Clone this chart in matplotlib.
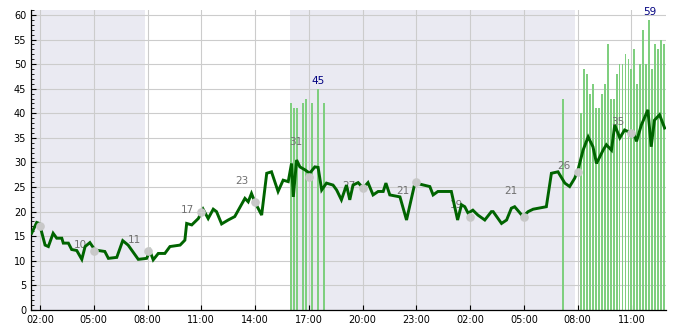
import numpy as np
import pandas as pd
import matplotlib
matplotlib.use("Agg")
import matplotlib.pyplot as plt
import matplotlib.dates as mdates
from matplotlib.ticker import MultipleLocator

# minutes since 00:00 of the first day
wind_min = [92, 109, 118, 137, 148, 164, 176, 193, 198, 215, 226, 243, 260, 271, 287, 304,
            337, 349, 377, 397, 415, 449, 477, 488, 499, 516, 538, 555, 589, 605, 611, 628,
            650, 666, 683, 700, 711, 728, 750, 772, 806, 817, 828, 839, 862, 879, 895, 917,
            934, 951, 962, 968, 979, 990, 1007, 1023, 1040, 1051, 1063, 1079, 1101, 1113,
            1129, 1146, 1157, 1168, 1185, 1202, 1218, 1235, 1252, 1269, 1278, 1291, 1325,
            1347, 1375, 1391, 1425, 1436, 1452, 1497, 1518, 1531, 1542, 1553, 1569, 1586,
            1609, 1631, 1637, 1665, 1682, 1698, 1709, 1737, 1754, 1771, 1815, 1832, 1854,
            1877, 1893, 1910, 1921, 1938, 1955, 1971, 1983, 2005, 2016, 2033, 2044, 2061,
            2077, 2088, 2105, 2117, 2133, 2155, 2166, 2177, 2194, 2211]
wind = [15.6, 17.8, 17.6, 13.2, 12.9, 15.6, 14.6, 14.6, 13.6, 13.6, 12.3, 12.1, 10.3, 12.9,
        13.7, 12.2, 11.9, 10.5, 10.7, 14.1, 13.2, 10.3, 10.5, 12.0, 10.2, 11.5, 11.5, 12.9,
        13.2, 14.2, 17.6, 17.3, 18.6, 20.5, 18.6, 20.5, 20.0, 17.5, 18.3, 19.0, 22.7, 22.0,
        23.7, 22.0, 19.3, 27.8, 28.1, 24.1, 26.4, 26.1, 29.8, 23.0, 30.5, 29.1, 28.5, 27.8,
        29.1, 29.0, 24.4, 25.8, 25.4, 24.4, 22.4, 25.4, 22.4, 25.4, 25.9, 24.8, 25.9, 23.4,
        24.1, 24.1, 25.8, 23.4, 23.0, 18.3, 25.8, 25.6, 25.1, 23.4, 24.1, 24.1, 18.3, 21.4,
        21.0, 19.7, 20.3, 19.3, 18.3, 20.0, 20.0, 17.6, 18.3, 20.7, 21.0, 19.0, 20.0, 20.5,
        21.0, 27.8, 28.1, 25.8, 25.1, 26.8, 28.5, 32.5, 35.2, 33.2, 29.8, 32.5, 33.6, 32.5,
        37.6, 35.0, 36.6, 36.3, 36.3, 34.3, 37.6, 40.7, 33.2, 38.6, 39.7, 37.0]

gust_min = [960, 970, 980, 1000, 1010, 1030, 1050, 1070, 1870] + list(range(1930, 2211, 10))
gust = [42, 41, 41, 42, 43, 42, 45, 42, 43,
        40, 49, 48, 44, 46, 41, 41, 44, 46, 54, 43, 43, 48, 50, 50, 52, 51, 49, 53, 46,
        50, 57, 50, 59, 49, 54, 53, 55, 54]

point_min = [120, 300, 480, 660, 840, 1020, 1200, 1380, 1560, 1740, 1920, 2100]
point_val = [17.1, 12.0, 12.0, 19.9, 21.9, 27.0, 24.9, 26.0, 18.9, 18.9, 28.0, 35.9]
point_lbl = ["", "10", "11", "17", "23", "31", "27", "21", "19", "21", "26", "35"]
lbl_y = [0, 13.2, 14.2, 20.3, 26.2, 34.2, 25.2, 24.2, 21.4, 24.2, 29.3, 38.3]

night_min = [(90, 472), (956, 1910)]
x_range = (90, 2215)

base = pd.Timestamp("2024-01-01")
def to_dt(m):
    return mdates.date2num(base + pd.to_timedelta(np.asarray(m, dtype=float), unit="m"))

fig = plt.figure(figsize=(6.85, 3.3), dpi=100)
ax = fig.add_axes([0.0453, 0.0606, 0.9267, 0.9091])

for a, b in night_min:
    ax.axvspan(to_dt(a), to_dt(b), color="#eaeaf2", lw=0, zorder=0)

ax.bar(to_dt(gust_min), gust, width=6.5 / 1440, color="#7fcf7f", lw=0, zorder=2)

# strongest gusts in the two clusters
for grp in (slice(0, 8), slice(8, None)):
    g = np.array(gust[grp])
    i = int(np.argmax(g))
    ax.annotate(str(g[i]), (to_dt(gust_min[grp][i]), g[i]), xytext=(0, 2),
                textcoords="offset points", ha="center", va="bottom",
                color="#000080", fontsize=7.5, zorder=6)

for m, y, s in zip(point_min, lbl_y, point_lbl):
    if s:
        ax.text(to_dt(m - 45), y, s, ha="center", va="center", color="#707070",
                fontsize=7.5, zorder=3)

ax.plot(to_dt(wind_min), wind, color="#006400", lw=2.1, zorder=4,
        solid_joinstyle="miter")
ax.plot(to_dt(point_min), point_val, "o", color="#c8c8c8", ms=5.2, zorder=5)

ax.set_xlim(to_dt(x_range[0]), to_dt(x_range[1]))
ax.set_ylim(0, 61)
ax.xaxis.set_major_locator(mdates.HourLocator(byhour=[2, 5, 8, 11, 14, 17, 20, 23]))
ax.xaxis.set_major_formatter(mdates.DateFormatter("%H:%M"))
ax.yaxis.set_major_locator(MultipleLocator(5))
ax.yaxis.set_minor_locator(MultipleLocator(1))
ax.grid(True, color="#cccccc", lw=0.8)
ax.set_axisbelow(True)
ax.tick_params(axis="both", which="major", direction="in", labelsize=7, length=3.5, width=0.8)
ax.tick_params(axis="y", which="minor", direction="in", length=1.8, width=0.6)
for s in ("top", "right"):
    ax.spines[s].set_visible(False)
for s in ("left", "bottom"):
    ax.spines[s].set_linewidth(0.9)

fig.savefig("out.png", dpi=100)
